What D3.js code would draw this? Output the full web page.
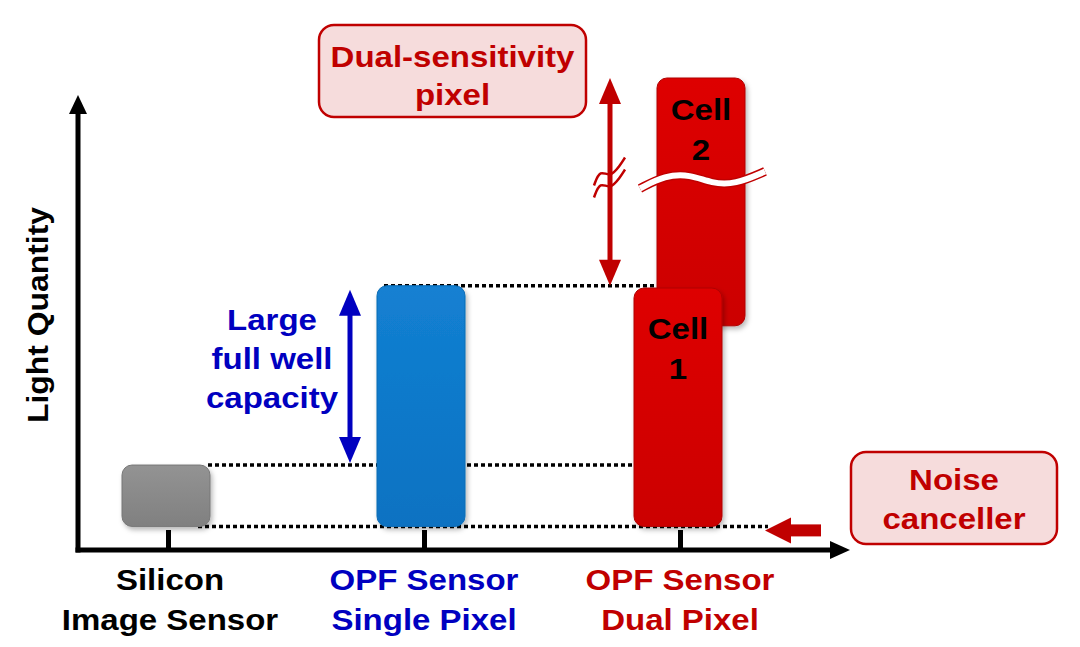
<!DOCTYPE html>
<html>
<head>
<meta charset="utf-8">
<script src="https://cdn.jsdelivr.net/npm/d3@7"></script>
<style>
  body { margin: 0; background: #fff; }
  text { font-family: "Liberation Sans", Arial, sans-serif; font-weight: bold; }
</style>
</head>
<body>
<script>
"use strict";

// categories on the x axis and their two-line labels
var categories = ["silicon", "single", "dual"];
var categoryLabels = [["Silicon", "Image Sensor"], ["OPF Sensor", "Single Pixel"], ["OPF Sensor", "Dual Pixel"]];
var labelColors = ["#000000", "#0000c0", "#c00000"];

// light quantity (arbitrary units)
var noiseLevel = 10;
var siliconTop = 36;
var singleTop = 112;
var cell1Top = 111;
var cell2Range = [95, 200];
var breakLevel = 157;

var width = 1080, height = 647;
var stretch = 1.1;

var svg = d3.select("body").append("svg")
    .attr("width", width).attr("height", height);

var defs = svg.append("defs");
var shadow = defs.append("filter").attr("id", "shadow")
    .attr("x", "-20%").attr("y", "-20%").attr("width", "140%").attr("height", "140%");
shadow.append("feDropShadow").attr("dx", 2).attr("dy", 3).attr("stdDeviation", 2.5)
    .attr("flood-color", "#000").attr("flood-opacity", 0.28);

function makeGradient(id, c1, c2){
    var g = defs.append("linearGradient").attr("id", id)
        .attr("x1", 0).attr("y1", 0).attr("x2", 0).attr("y2", 1);
    g.append("stop").attr("offset", "0%").attr("stop-color", c1);
    g.append("stop").attr("offset", "100%").attr("stop-color", c2);
}
makeGradient("gGray", "#939393", "#808080");
makeGradient("gBlue", "#1380d2", "#0a72c2");
makeGradient("gRed", "#de0000", "#cc0000");

var x = d3.scalePoint().domain(categories).range([168, 680]);
var y = d3.scaleLinear().domain([0, 200]).range([550, 78]);

var barW = 88;

// axes
var axisX0 = 78, axisY0 = 550;
var axes = svg.append("g");
axes.append("line").attr("x1", axisX0).attr("y1", axisY0 + 2.5).attr("x2", axisX0).attr("y2", 112)
    .attr("stroke", "#000").attr("stroke-width", 5);
axes.append("path").attr("d", "M" + (axisX0 - 9) + ",114 L" + axisX0 + ",95 L" + (axisX0 + 9) + ",114 Z").attr("fill", "#000");
axes.append("line").attr("x1", axisX0 - 2.5).attr("y1", axisY0).attr("x2", 832).attr("y2", axisY0)
    .attr("stroke", "#000").attr("stroke-width", 5);
axes.append("path").attr("d", "M830," + (axisY0 - 9) + " L850," + axisY0 + " L830," + (axisY0 + 9) + " Z").attr("fill", "#000");

var tickAxis = svg.append("g").attr("transform", "translate(0," + axisY0 + ")")
    .call(d3.axisTop(x).tickSize(20).tickFormat(""));
tickAxis.select(".domain").remove();
tickAxis.selectAll(".tick line").attr("stroke", "#000").attr("stroke-width", 5);

// dotted reference lines
function dotted(x1, x2, v){
    svg.append("line").attr("x1", x1).attr("x2", x2).attr("y1", y(v)).attr("y2", y(v))
        .attr("stroke", "#000").attr("stroke-width", 3.5).attr("stroke-dasharray", "4,3");
}
dotted(x("silicon") + 30, 768, noiseLevel);
dotted(x("silicon") + 40, x("dual") - 40, siliconTop);
dotted(x("single") - 40, x("dual") + 68, singleTop);

// bars
function bar(cx, top, bottom, fill){
    return svg.append("rect")
        .attr("x", cx - barW / 2).attr("y", y(top))
        .attr("width", barW).attr("height", y(bottom) - y(top))
        .attr("rx", 10).attr("ry", 10)
        .attr("fill", fill).attr("filter", "url(#shadow)");
}
bar(x("silicon") - 2, siliconTop, noiseLevel, "url(#gGray)").attr("stroke", "#777").attr("stroke-width", 1);
bar(x("single") - 3, singleTop, noiseLevel, "url(#gBlue)").attr("stroke", "#0d6cb4").attr("stroke-width", 1);

var cell2X = x("dual") + 21;
bar(cell2X, cell2Range[1], cell2Range[0], "url(#gRed)").attr("stroke", "#b00000").attr("stroke-width", 1);

// break mark on cell 2
var wave = d3.line().curve(d3.curveBasis);
var yb = y(breakLevel);
var wavePts = [[640, yb + 9], [665, yb - 4], [690, yb - 5], [712, yb + 4], [735, yb + 5], [765, yb - 8]];
svg.append("path").attr("d", wave(wavePts)).attr("fill", "none")
    .attr("stroke", "#c00000").attr("stroke-width", 9);
svg.append("path").attr("d", wave(wavePts)).attr("fill", "none")
    .attr("stroke", "#fff").attr("stroke-width", 6);

bar(x("dual") - 2, cell1Top, noiseLevel, "url(#gRed)").attr("stroke", "#b00000").attr("stroke-width", 1);

// text, slightly stretched horizontally like the source slide
function centerText(cx, baseline, str, color, size){
    svg.append("text")
        .attr("transform", "translate(" + cx + "," + baseline + ") scale(" + stretch + ",1)")
        .attr("text-anchor", "middle")
        .attr("fill", color).style("font-size", size + "px").text(str);
}
centerText(cell2X, 120, "Cell", "#000", 30);
centerText(cell2X, 160, "2", "#000", 30);
centerText(x("dual") - 2, 339, "Cell", "#000", 30);
centerText(x("dual") - 2, 379, "1", "#000", 30);

// double arrows
function doubleArrow(cx, top, bottom, color){
    var g = svg.append("g");
    g.append("line").attr("x1", cx).attr("x2", cx).attr("y1", top + 20).attr("y2", bottom - 20)
        .attr("stroke", color).attr("stroke-width", 5);
    g.append("path").attr("d", "M" + (cx - 11) + "," + (top + 26) + " L" + cx + "," + top + " L" + (cx + 11) + "," + (top + 26) + " Z").attr("fill", color);
    g.append("path").attr("d", "M" + (cx - 11) + "," + (bottom - 26) + " L" + cx + "," + bottom + " L" + (cx + 11) + "," + (bottom - 26) + " Z").attr("fill", color);
}
doubleArrow(350, y(singleTop) + 4, y(siliconTop) - 2, "#0000c0");
doubleArrow(610, y(cell2Range[1]), y(singleTop), "#c00000");

// break mark on the red arrow
[-6, 6].forEach(function(dy){
    svg.append("path")
        .attr("d", wave([[594, yb + 12 + dy], [600, yb - 4 + dy], [610, yb + 4 + dy], [620, yb - 8 + dy], [625, yb - 16 + dy]]))
        .attr("fill", "none").attr("stroke", "#c00000").attr("stroke-width", 2.5);
});

// noise canceller arrow
svg.append("rect").attr("x", 788).attr("y", y(noiseLevel) - 2).attr("width", 33).attr("height", 12).attr("fill", "#c00000");
svg.append("path").attr("d", "M765," + (y(noiseLevel) + 4) + " L791," + (y(noiseLevel) - 9) + " L791," + (y(noiseLevel) + 17) + " Z").attr("fill", "#c00000");

// callout boxes
function callout(x0, y0, w, h, lines, baselines){
    svg.append("rect").attr("x", x0).attr("y", y0).attr("width", w).attr("height", h)
        .attr("rx", 15).attr("ry", 15)
        .attr("fill", "#f6dcdc").attr("stroke", "#c00000").attr("stroke-width", 2.5);
    lines.forEach(function(s, i){
        centerText(x0 + w / 2, baselines[i], s, "#c00000", 30);
    });
}
callout(319, 25, 267, 92, ["Dual-sensitivity", "pixel"], [67, 105]);
callout(851, 452, 206, 92, ["Noise", "canceller"], [490, 529]);

// full well text
["Large", "full well", "capacity"].forEach(function(s, i){
    centerText(272, 330 + i * 39, s, "#0000c0", 30);
});

// category labels
categories.forEach(function(c, i){
    categoryLabels[i].forEach(function(s, j){
        centerText(x(c) + (i === 0 ? 2 : 0), 590 + j * 40, s, labelColors[i], 30);
    });
});

// y axis title
svg.append("text").attr("transform", "translate(48,315) rotate(-90) scale(" + stretch + ",1)")
    .attr("text-anchor", "middle").attr("fill", "#000").style("font-size", "29px")
    .text("Light Quantity");
</script>
</body>
</html>
